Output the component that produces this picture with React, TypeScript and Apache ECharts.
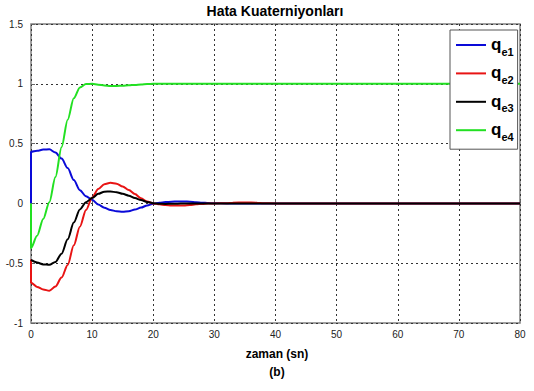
import React, { useEffect, useRef } from "react";
import * as echarts from "echarts";

// time stamps (s); the first entry is the pre-jump sample at t = 0
const times = [0, 0, 1, 2, 3, 4, 5, 6, 7, 8, 9, 10, 11, 12, 13, 14, 15, 16, 17, 18, 19, 20, 21, 22, 23, 24, 25, 26, 27, 28, 29, 30, 32, 33, 35, 37, 38, 40, 80];

const qe1 = [0, 0.432, 0.44, 0.45, 0.452, 0.425, 0.375, 0.295, 0.195, 0.11, 0.06, 0.03, -0.01, -0.036, -0.055, -0.066, -0.07, -0.065, -0.052, -0.035, -0.017, -0.003, 0.006, 0.011, 0.014, 0.016, 0.016, 0.014, 0.01, 0.006, 0.003, 0.001, 0, 0, 0, 0, 0, 0, 0];
const qe2 = [-0.47, -0.663, -0.698, -0.72, -0.73, -0.695, -0.62, -0.515, -0.35, -0.195, -0.055, 0.05, 0.12, 0.16, 0.172, 0.165, 0.142, 0.112, 0.078, 0.043, 0.015, 0.0, -0.008, -0.014, -0.017, -0.018, -0.017, -0.013, -0.008, -0.004, -0.001, 0, 0.002, 0.006, 0.007, 0.006, 0.001, 0, 0];
const qe3 = [-0.473, -0.473, -0.495, -0.51, -0.513, -0.49, -0.42, -0.3, -0.16, -0.05, 0.01, 0.045, 0.08, 0.098, 0.1, 0.093, 0.08, 0.065, 0.045, 0.028, 0.012, 0.002, -0.003, -0.004, -0.003, -0.002, 0, 0, 0, 0, 0, 0, 0, 0, 0, 0, 0, 0, 0];
const qe4 = [0, -0.373, -0.27, -0.13, 0.01, 0.22, 0.47, 0.7, 0.88, 0.97, 0.998, 1.0, 0.993, 0.986, 0.982, 0.982, 0.984, 0.987, 0.991, 0.995, 0.998, 1.0, 1, 1, 1, 1, 1, 1, 1, 1, 1, 1, 1, 1, 1, 1, 1, 1, 1];

const seriesNames = ["q_e1", "q_e2", "q_e3", "q_e4"];
const seriesColors = ["#0a0ad8", "#e81414", "#000000", "#22e022"];
const seriesValues = [qe1, qe2, qe3, qe4];

const titleText = "Hata Kuaterniyonları";
const xLabelText = "zaman (sn)";
const captionText = "(b)";

const tickFont = "'Liberation Sans Narrow', 'Liberation Sans', Arial, sans-serif";
const boldFont = "'Liberation Sans', Arial, sans-serif";

export default function App() {
  const ref = useRef<HTMLDivElement>(null);
  useEffect(() => {
    if (!ref.current) return;
    const chart = echarts.init(ref.current, undefined, { renderer: "svg" });
    const option: any = {
      animation: false,
      backgroundColor: "#ffffff",
      grid: {
        left: 31,
        top: 24,
        width: 489,
        height: 299,
        show: true,
        borderColor: "#808080",
        borderWidth: 1.5,
        backgroundColor: "#ffffff",
      },
      xAxis: {
        type: "value",
        min: 0,
        max: 80,
        interval: 10,
        axisLine: { show: false },
        axisTick: { show: true, inside: true, length: 4, lineStyle: { color: "#666" } },
        axisLabel: { color: "#222", fontSize: 10, fontFamily: tickFont, margin: 6 },
        splitLine: { show: true, lineStyle: { color: "#333", type: [2, 3], width: 1 } },
      },
      yAxis: {
        type: "value",
        min: -1,
        max: 1.5,
        interval: 0.5,
        axisLine: { show: false },
        axisTick: { show: true, inside: true, length: 4, lineStyle: { color: "#666" } },
        axisLabel: { color: "#222", fontSize: 10, fontFamily: tickFont, margin: 8 },
        splitLine: { show: true, lineStyle: { color: "#333", type: [2, 3], width: 1 } },
      },
      legend: {
        orient: "vertical",
        left: 450,
        top: 30,
        padding: [6, 4, 7, 6],
        itemGap: 7.4,
        itemWidth: 30,
        itemHeight: 2,
        icon: "rect",
        backgroundColor: "#ffffff",
        borderColor: "#555",
        borderWidth: 1,
        borderRadius: 0,
        data: seriesNames,
        formatter: (name: string) => `{q|q}{s|${name.slice(2)}}`,
        textStyle: {
          rich: {
            q: { fontSize: 17, fontWeight: "bold", fontFamily: boldFont, color: "#000", lineHeight: 18, verticalAlign: "top" },
            s: { fontSize: 11, fontWeight: "bold", fontFamily: boldFont, color: "#000", lineHeight: 12, padding: [10, 0, 0, 0], verticalAlign: "top" },
          },
        },
      },
      graphic: [
        { type: "text", x: 275, y: 11, style: { text: titleText, font: `bold 14px ${boldFont}`, fill: "#000", textAlign: "center", textVerticalAlign: "middle" } },
        { type: "text", x: 277, y: 354, style: { text: xLabelText, font: `bold 12px ${boldFont}`, fill: "#000", textAlign: "center", textVerticalAlign: "middle" } },
        { type: "text", x: 277, y: 372, style: { text: captionText, font: `bold 12px ${boldFont}`, fill: "#000", textAlign: "center", textVerticalAlign: "middle" } },
      ],
      series: seriesNames.map((name, i) => ({
        name,
        type: "line",
        data: times.map((t, k) => [t, seriesValues[i][k]]),
        symbol: "none",
        smooth: 0.3,
        smoothMonotone: "x",
        clip: true,
        lineStyle: { color: seriesColors[i], width: 2 },
        itemStyle: { color: seriesColors[i] },
      })),
    };
    chart.setOption(option);
    return () => chart.dispose();
  }, []);
  return <div ref={ref} style={{ position: "fixed", left: 0, top: 0, width: 534, height: 391 }} />;
}
